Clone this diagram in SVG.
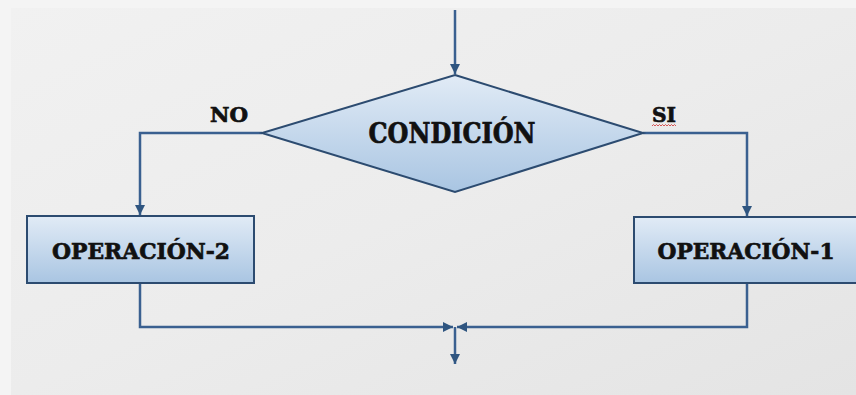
<svg xmlns="http://www.w3.org/2000/svg" width="856" height="395" viewBox="0 0 856 395">
<defs>
<linearGradient id="bg" x1="0" y1="0" x2="1" y2="1">
<stop offset="0" stop-color="#f1f1f1"/>
<stop offset="0.5" stop-color="#ececec"/>
<stop offset="1" stop-color="#e4e4e4"/>
</linearGradient>
<linearGradient id="fill" x1="0" y1="0" x2="0" y2="1">
<stop offset="0" stop-color="#e1ebf6"/>
<stop offset="1" stop-color="#a9c5e2"/>
</linearGradient>
<marker id="ah" viewBox="0 0 10 10" refX="10" refY="5" markerWidth="4" markerHeight="4" orient="auto" markerUnits="strokeWidth">
<path d="M0,0 L10,5 L0,10 Z" fill="#2f5580"/>
</marker>
<style>
.shape{fill:url(#fill);stroke:#2c4b70;stroke-width:2}
.conn{fill:none;stroke:#3a6090;stroke-width:2.5;marker-end:url(#ah)}
.lbl{font-family:"DejaVu Serif","Liberation Serif",serif;font-weight:bold;fill:#111;stroke:#111;stroke-width:0.7}
</style>
</defs>
<rect x="0" y="0" width="856" height="395" fill="#f4f4f4"/>
<rect x="11" y="8" width="845" height="387" fill="url(#bg)"/>
<g id="connectors">
<path class="conn" d="M455,10 V74"/>
<path class="conn" d="M262,133 H140 V215"/>
<path class="conn" d="M643,133 H747 V216"/>
<path class="conn" d="M140,283 V327 H453"/>
<path class="conn" d="M747,283 V327 H457"/>
<path class="conn" d="M455,327 V364"/>
</g>
<g id="condicion">
<polygon class="shape" points="455,75 643,133 455,192 262,133"/>
<text class="lbl" x="452" y="143" font-size="27" text-anchor="middle" textLength="167" lengthAdjust="spacingAndGlyphs">CONDICIÓN</text>
</g>
<g id="operacion2">
<rect class="shape" x="27" y="216" width="227" height="67"/>
<text class="lbl" x="141" y="259" font-size="23" text-anchor="middle" textLength="178" lengthAdjust="spacingAndGlyphs">OPERACIÓN-2</text>
</g>
<g id="operacion1">
<rect class="shape" x="634" y="217" width="226" height="66"/>
<text class="lbl" x="746" y="259" font-size="23" text-anchor="middle" textLength="177" lengthAdjust="spacingAndGlyphs">OPERACIÓN-1</text>
</g>
<g id="labels">
<text class="lbl" x="229" y="122" font-size="20" text-anchor="middle" textLength="38" lengthAdjust="spacingAndGlyphs">NO</text>
<text class="lbl" x="664" y="122" font-size="20" text-anchor="middle" textLength="24" lengthAdjust="spacingAndGlyphs">SI</text>
<path d="M652,126 l1.5,-1.5 l1.5,1.5 l1.5,-1.5 l1.5,1.5 l1.5,-1.5 l1.5,1.5 l1.5,-1.5 l1.5,1.5 l1.5,-1.5 l1.5,1.5 l1.5,-1.5 l1.5,1.5 l1.5,-1.5 l1.5,1.5 l1.5,-1.5 l1.5,1.5" fill="none" stroke="#d03030" stroke-width="0.8"/>
</g>
</svg>
